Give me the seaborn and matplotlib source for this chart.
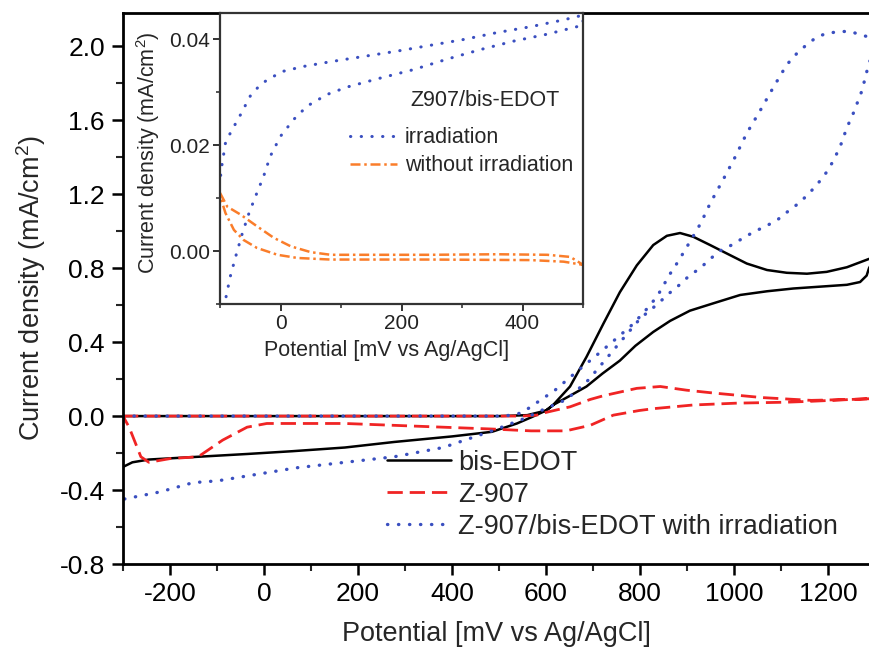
import seaborn as sns
import matplotlib.pyplot as plt
from matplotlib.ticker import MultipleLocator, FormatStrFormatter

# main panel: potential in mV, current density in mA/cm2
# bis-EDOT: forward sweep then reverse sweep
bis_fwd_mv = [-300, 0, 300, 500, 560, 600, 615, 651, 686, 722, 757, 793, 828, 857, 885,
              913, 949, 984, 1027, 1070, 1112, 1155, 1197, 1240, 1287, 1300]
bis_fwd_j = [0.0, 0.0, 0.0, 0.0, 0.005, 0.03, 0.06, 0.16, 0.32, 0.50, 0.67, 0.815, 0.925, 0.975, 0.99,
             0.97, 0.925, 0.88, 0.825, 0.79, 0.775, 0.77, 0.78, 0.805, 0.85, 0.86]
bis_rev_mv = [1300, 1287, 1282, 1268, 1240, 1183, 1126, 1070, 1013, 956, 906, 864, 828, 790, 757, 720,
              686, 651, 615, 600, 570, 538, 485, 400, 277, 172, 60, -36, -140, -245, -280, -300]
bis_rev_j = [0.86, 0.80, 0.76, 0.725, 0.71, 0.70, 0.69, 0.675, 0.655, 0.61, 0.57, 0.515, 0.455, 0.38, 0.30, 0.23,
             0.16, 0.11, 0.06, 0.03, -0.005, -0.04, -0.085, -0.11, -0.14, -0.17, -0.19, -0.205, -0.22, -0.235, -0.25, -0.275]

# Z-907
z_fwd_mv = [-300, 0, 300, 550, 580, 600, 651, 694, 722, 793, 843, 899, 955, 1060, 1164, 1250, 1300]
z_fwd_j = [0.0, 0.0, 0.0, 0.0, 0.005, 0.02, 0.05, 0.09, 0.11, 0.15, 0.16, 0.14, 0.125, 0.10, 0.085, 0.09, 0.095]
z_rev_mv = [1300, 1250, 1164, 1110, 1006, 913, 828, 798, 743, 694, 642, 568, 485, 380, 172, 6,
            -36, -88, -140, -200, -245, -262, -287, -300]
z_rev_j = [0.095, 0.09, 0.08, 0.075, 0.07, 0.06, 0.04, 0.03, 0.005, -0.05, -0.08, -0.08, -0.07, -0.06, -0.04, -0.04,
           -0.06, -0.13, -0.22, -0.23, -0.25, -0.22, -0.06, 0.0]

# Z-907/bis-EDOT with irradiation
zb_fwd_mv = [-300, 0, 300, 500, 530, 550, 573, 619, 665, 708, 752, 786, 818, 837, 864, 882, 896, 910, 924, 936,
             949, 977, 1002, 1027, 1055, 1084, 1112, 1133, 1155, 1176, 1197, 1226, 1247, 1272, 1287, 1300]
zb_fwd_j = [0.0, 0.0, 0.0, 0.0, 0.005, 0.02, 0.06, 0.14, 0.24, 0.33, 0.425, 0.50, 0.59, 0.65, 0.77, 0.84, 0.90, 0.96, 1.02, 1.08,
            1.15, 1.28, 1.40, 1.53, 1.65, 1.78, 1.90, 1.96, 2.01, 2.05, 2.07, 2.08, 2.08, 2.06, 2.05, 2.02]
zb_rev_mv = [1300, 1287, 1272, 1254, 1240, 1226, 1211, 1197, 1179, 1158, 1137, 1116, 1094, 1070, 1045, 1020,
             999, 974, 949, 928, 905, 884, 860, 839, 818, 801, 766, 728, 690, 644, 598, 557, 485, 381, 277,
             68, -98, -151, -221, -300]
zb_rev_j = [1.98, 1.91, 1.76, 1.64, 1.56, 1.46, 1.38, 1.32, 1.26, 1.20, 1.15, 1.11, 1.065, 1.03, 1.00, 0.965,
            0.93, 0.90, 0.85, 0.80, 0.76, 0.71, 0.66, 0.61, 0.565, 0.53, 0.425, 0.31, 0.195, 0.09, 0.04, -0.01, -0.08,
            -0.17, -0.22, -0.28, -0.35, -0.36, -0.41, -0.45]

# inset: Z907/bis-EDOT, current density in mA/cm2
irr_mv = [-100, -91, -83, -74, -63, -52, -39, -28, -17, 0, 22, 44, 77, 110, 165, 220, 276, 331, 386, 441, 500,
          500, 468, 413, 358, 303, 248, 193, 138, 83, 38, 5, -17, -33, -50, -66, -83, -91, -98, -100]
irr_j = [-0.0125, -0.0092, -0.0048, -0.001, 0.0034, 0.0072, 0.011, 0.0141, 0.0179, 0.0217, 0.0249, 0.0274, 0.0296,
         0.031, 0.0327, 0.0343, 0.0363, 0.0381, 0.0397, 0.041, 0.0427,
         0.0446, 0.0437, 0.0424, 0.0413, 0.040, 0.0389, 0.0378, 0.0368, 0.0358, 0.0349, 0.034, 0.0327, 0.0315,
         0.0293, 0.0258, 0.0223, 0.0204, 0.0154, 0.013]
dark_mv = [-100, -88, -66, -39, -11, 17, 50, 83, 248, 358, 441, 479, 496, 500,
           468, 413, 248, 83, 28, -5, -39, -61, -77, -91, -100]
dark_j = [0.011, 0.0084, 0.0069, 0.0047, 0.0025, 0.0009, -0.0002, -0.0007, -0.0007, -0.0006, -0.0007, -0.0011, -0.0023, -0.0026,
          -0.002, -0.0017, -0.0016, -0.0016, -0.0013, -0.0007, 0.0006, 0.0021, 0.004, 0.0072, 0.0105]

sns.set_theme(style='ticks')
plt.rcParams['font.family'] = ['Liberation Sans', 'DejaVu Sans']
plt.rcParams['axes.unicode_minus'] = False
plt.rcParams['mathtext.default'] = 'regular'

fig = plt.figure(figsize=(8.69, 6.54), dpi=100)
ax = fig.add_axes([123 / 869, 1 - 564 / 654, 746 / 869, 551 / 654])

blue = '#3a4fc0'
red = '#f02424'
orange = '#fa7d2a'

sns.lineplot(x=bis_fwd_mv + bis_rev_mv, y=bis_fwd_j + bis_rev_j, sort=False, estimator=None,
             color='black', lw=1.8, label='bis-EDOT', ax=ax)
sns.lineplot(x=z_fwd_mv + z_rev_mv, y=z_fwd_j + z_rev_j, sort=False, estimator=None,
             color=red, lw=2.0, linestyle=(0, (5.5, 2.5)), label='Z-907', ax=ax)
sns.lineplot(x=zb_fwd_mv + zb_rev_mv, y=zb_fwd_j + zb_rev_j, sort=False, estimator=None,
             color=blue, lw=2.4, linestyle=(0, (0.1, 3.2)), dash_capstyle='round',
             label='Z-907/bis-EDOT with irradiation', ax=ax)

ax.set_xlim(-300, 1287)
ax.set_ylim(-0.8, 2.18)
ax.xaxis.set_major_locator(MultipleLocator(200))
ax.xaxis.set_minor_locator(MultipleLocator(100))
ax.yaxis.set_major_locator(MultipleLocator(0.4))
ax.yaxis.set_minor_locator(MultipleLocator(0.2))
ax.yaxis.set_major_formatter(FormatStrFormatter('%.1f'))
ax.tick_params(which='major', length=8, width=1.8, labelsize=19, pad=5, colors='black')
ax.tick_params(which='minor', length=5, width=1.5)
ax.tick_params(top=False, right=False)
for side in ['left', 'bottom', 'top']:
    ax.spines[side].set_linewidth(2.0)
    ax.spines[side].set_color('black')
ax.spines['right'].set_visible(False)

ax.set_xlabel('Potential [mV vs Ag/AgCl]', fontsize=19.5)
ax.set_ylabel('Current density (mA/cm$^2$)', fontsize=19.5)
ax.xaxis.set_label_coords(0.5, -0.103)
ax.yaxis.set_label_coords(-0.10, 0.5)

ax.legend(loc='upper left', bbox_to_anchor=(0.354, 0.207), frameon=False, fontsize=19.5,
          handlelength=2.37, handletextpad=0.26, labelspacing=0.22, borderpad=0, borderaxespad=0)

# inset
ax_in = fig.add_axes([220 / 869, 1 - 304 / 654, 363 / 869, 291 / 654])
ax_in.set_facecolor('white')
sns.lineplot(x=irr_mv, y=irr_j, sort=False, estimator=None, color=blue, lw=2.2,
             linestyle=(0, (0.1, 3.4)), dash_capstyle='round', label='irradiation', ax=ax_in)
sns.lineplot(x=dark_mv, y=dark_j, sort=False, estimator=None, color=orange, lw=1.8,
             linestyle=(0, (4, 1.5, 1, 1.5)), label='without irradiation', ax=ax_in)

ax_in.set_xlim(-100, 500)
ax_in.set_ylim(-0.01, 0.045)
ax_in.xaxis.set_major_locator(MultipleLocator(200))
ax_in.xaxis.set_minor_locator(MultipleLocator(100))
ax_in.yaxis.set_major_locator(MultipleLocator(0.02))
ax_in.yaxis.set_minor_locator(MultipleLocator(0.01))
ax_in.yaxis.set_major_formatter(FormatStrFormatter('%.2f'))
ax_in.tick_params(which='major', length=5, width=1.3, labelsize=15, pad=2, colors='#222222')
ax_in.tick_params(which='minor', length=3, width=1.1)
for side in ax_in.spines:
    ax_in.spines[side].set_linewidth(1.6)
    ax_in.spines[side].set_color('#333333')
ax_in.set_xlabel('Potential [mV vs Ag/AgCl]', fontsize=15.5)
ax_in.set_ylabel('Current density (mA/cm$^2$)', fontsize=15.5)
ax_in.xaxis.set_label_coords(0.46, -0.125)
ax_in.yaxis.set_label_coords(-0.16, 0.52)
ax_in.text(0.73, 0.70, 'Z907/bis-EDOT', transform=ax_in.transAxes, ha='center', va='center', fontsize=15.5)
ax_in.legend(loc='upper left', bbox_to_anchor=(0.358, 0.607), frameon=False, fontsize=15.5,
             handlelength=2.2, handletextpad=0.35, labelspacing=0.33, borderpad=0, borderaxespad=0)

fig.savefig('out.png', dpi=100)
